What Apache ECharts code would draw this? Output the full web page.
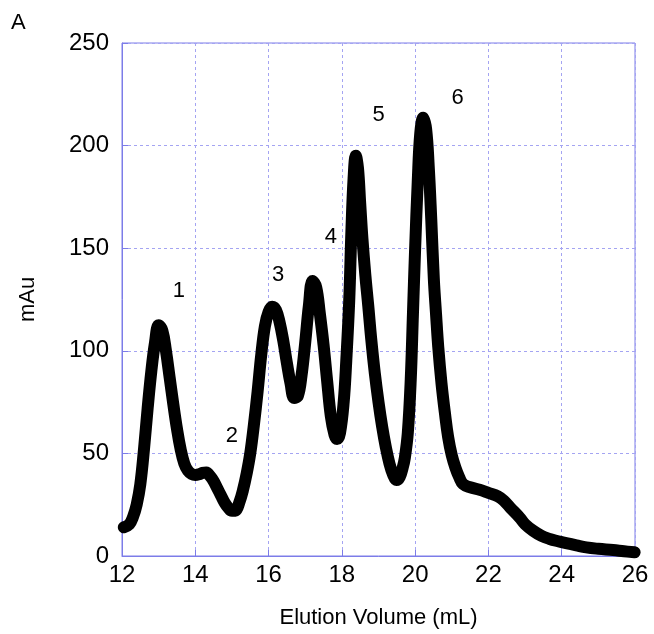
<!DOCTYPE html>
<html>
<head>
<meta charset="utf-8">
<script src="https://cdn.jsdelivr.net/npm/echarts@6/dist/echarts.min.js"></script>
<style>
  html, body { margin: 0; padding: 0; background: #ffffff; }
  #chart { width: 654px; height: 634px; }
</style>
</head>
<body>
<div id="chart"></div>
<script>
// Chromatogram trace: elution volume (mL) and absorbance (mAu)
const volume = [
  12.05, 12.20, 12.30, 12.40, 12.50, 12.60, 12.70, 12.80, 12.90, 13.00,
  13.10, 13.20, 13.30, 13.40, 13.50, 13.60, 13.70, 13.80, 13.90, 14.00,
  14.10, 14.20, 14.30, 14.40, 14.50, 14.60, 14.70, 14.80, 14.90, 15.00,
  15.10, 15.20, 15.30, 15.40, 15.50, 15.60, 15.70, 15.80, 15.90, 16.00,
  16.10, 16.20, 16.30, 16.40, 16.50, 16.60, 16.70, 16.80, 16.90, 17.00,
  17.10, 17.20, 17.30, 17.40, 17.50, 17.60, 17.70, 17.80, 17.87, 17.95,
  18.05, 18.12, 18.20, 18.26, 18.32, 18.38, 18.44, 18.50, 18.56, 18.64,
  18.72, 18.80, 18.90, 19.00, 19.10, 19.20, 19.30, 19.40, 19.49, 19.58,
  19.66, 19.72, 19.80, 19.88, 19.94, 20.00, 20.07, 20.14, 20.22, 20.30,
  20.37, 20.44, 20.51, 20.57, 20.63, 20.72, 20.81, 20.90, 21.00, 21.10,
  21.20, 21.31, 21.50, 21.76, 22.00, 22.26, 22.42, 22.60, 22.85, 23.00,
  23.22, 23.45, 23.67, 23.90, 24.12, 24.40, 24.67, 25.00, 25.40, 25.70,
  25.99
];
const absorbance = [
  14.0, 15.5, 19.0, 25.0, 35.0, 52.0, 72.0, 90.0, 104.0, 112.5,
  110.0, 100.0, 87.0, 74.0, 62.0, 52.0, 45.0, 41.5, 40.0, 39.5,
  39.8, 40.5, 40.7, 39.0, 36.5, 33.0, 29.5, 26.0, 23.5, 22.0,
  22.2, 26.0, 32.0, 40.0, 50.0, 64.0, 80.0, 98.0, 112.0, 119.0,
  121.5, 120.0, 114.0, 105.0, 94.0, 84.0, 77.0, 78.0, 88.0, 104.0,
  122.0, 134.0, 131.0, 118.0, 103.0, 85.0, 68.0, 59.0, 57.0, 60.0,
  75.0, 95.0, 124.0, 158.0, 184.0, 195.0, 189.0, 172.0, 155.0, 137.0,
  122.0, 106.0, 89.0, 75.0, 63.0, 53.0, 45.0, 39.5, 37.0, 38.5,
  43.0, 48.0, 60.0, 86.0, 118.0, 150.0, 182.0, 206.0, 213.6, 208.0,
  190.0, 164.0, 135.0, 118.0, 102.0, 84.0, 70.0, 58.0, 49.0, 43.0,
  38.5, 35.0, 33.5, 32.3, 30.8, 29.1, 27.0, 23.5, 18.8, 15.5,
  12.3, 9.8, 8.3, 7.2, 6.3, 5.2, 4.2, 3.5, 2.9, 2.3,
  1.8
];

// Peak numbers and where they sit
const peakNames = ['1', '2', '3', '4', '5', '6'];
const peakLabelX = [13.55, 15.0, 16.26, 17.7, 19.0, 21.16];
const peakLabelY = [129, 58.4, 136.8, 155.4, 214.7, 223.4];

// Axis ticks
const xTicks = [12, 14, 16, 18, 20, 22, 24, 26];
const yTicks = [0, 50, 100, 150, 200, 250];

const FONT = '"Liberation Sans", Arial, sans-serif';
const GRID_COLOR = '#a4a4f2';
const FRAME_COLOR = '#7c7ce8';

const trace = volume.map((v, i) => [v, absorbance[i]]);
const peakPoints = peakNames.map((n, i) => ({ value: [peakLabelX[i], peakLabelY[i]], name: n }));

const chart = echarts.init(document.getElementById('chart'), null, { renderer: 'canvas' });

chart.setOption({
  animation: false,
  backgroundColor: '#ffffff',
  textStyle: { fontFamily: FONT },
  grid: {
    left: 122, right: 19, top: 43, bottom: 77,
    show: true, borderColor: FRAME_COLOR, borderWidth: 1, backgroundColor: 'transparent'
  },
  graphic: [{
    type: 'text', left: 11, top: 12,
    style: { text: 'A', font: '22px ' + FONT, fill: '#000' }
  }],
  xAxis: {
    type: 'value',
    min: xTicks[0], max: xTicks[xTicks.length - 1], interval: 2,
    name: 'Elution Volume (mL)', nameLocation: 'middle', nameGap: 51,
    nameTextStyle: { fontSize: 22, color: '#000', fontFamily: FONT },
    axisLine: { show: true, lineStyle: { color: FRAME_COLOR, width: 1 } },
    axisTick: { show: true, inside: true, length: 6, lineStyle: { color: FRAME_COLOR } },
    axisLabel: { fontSize: 24, color: '#000', margin: 7, fontFamily: FONT },
    splitLine: { show: true, lineStyle: { color: GRID_COLOR, type: [3, 3], width: 1 } }
  },
  yAxis: {
    type: 'value',
    min: yTicks[0], max: yTicks[yTicks.length - 1], interval: 50,
    name: 'mAu', nameLocation: 'middle', nameGap: 83, nameRotate: 90,
    nameTextStyle: { fontSize: 22, color: '#000', fontFamily: FONT },
    axisLine: { show: true, lineStyle: { color: FRAME_COLOR, width: 1 } },
    axisTick: { show: true, inside: true, length: 6, lineStyle: { color: FRAME_COLOR } },
    axisLabel: { fontSize: 24, color: '#000', margin: 13, fontFamily: FONT },
    splitLine: { show: true, lineStyle: { color: GRID_COLOR, type: [3, 3], width: 1 } }
  },
  series: [
    {
      type: 'line',
      data: trace,
      smooth: 0.4,
      showSymbol: false,
      symbol: 'none',
      clip: false,
      lineStyle: { color: '#000', width: 12, cap: 'round', join: 'round' }
    },
    {
      type: 'scatter',
      data: peakPoints,
      symbolSize: 0,
      silent: true,
      label: {
        show: true, position: 'inside', formatter: p => p.name,
        fontSize: 22, color: '#000', fontFamily: FONT,
        textBorderWidth: 0, textBorderColor: 'transparent', opacity: 1
      }
    }
  ]
});
</script>
</body>
</html>
